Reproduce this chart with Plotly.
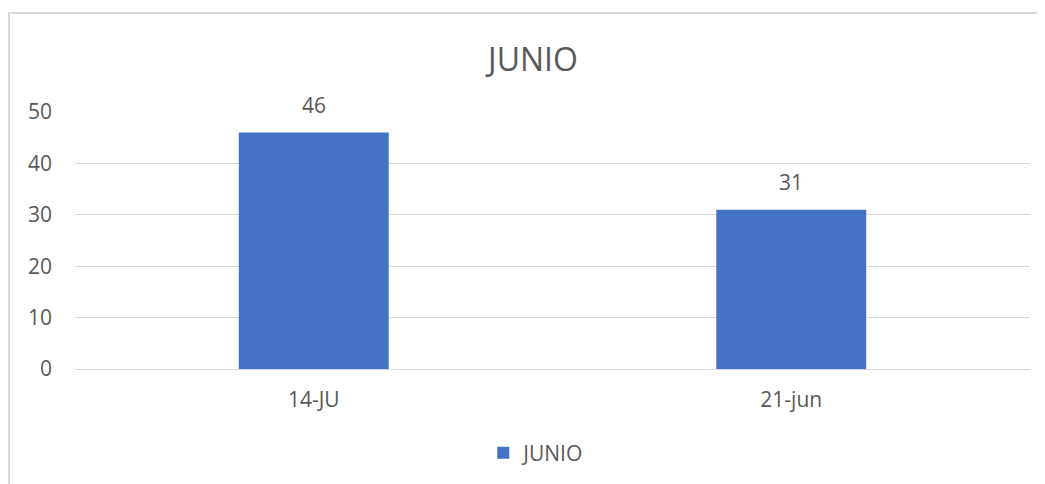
import plotly.graph_objects as go

categories = ["14-JU", "21-jun"]
values = [46, 31]
series_name = "JUNIO"

GRID = "#d9d9d9"
TEXT = "#595959"
BAR = "#4472C4"
FONT = "Open Sans, Liberation Sans, sans-serif"

fig = go.Figure()
fig.add_trace(
    go.Bar(
        x=categories,
        y=values,
        name=series_name,
        marker=dict(color=BAR, line=dict(width=0)),
        showlegend=True,
    )
)

# data labels above each bar
for cat, val in zip(categories, values):
    fig.add_annotation(
        x=cat, y=val, text=str(val), showarrow=False,
        yanchor="bottom", yshift=12,
        font=dict(size=21, color=TEXT, family=FONT),
    )

# chart border (left/top visible, rest falls outside the window)
fig.add_shape(
    type="rect", xref="paper", yref="paper",
    x0=-0.0691, x1=1.03, y0=-0.5, y1=1.385,
    line=dict(color=GRID, width=2), fillcolor="rgba(0,0,0,0)", layer="below",
)

fig.update_layout(
    width=1045,
    height=484,
    paper_bgcolor="white",
    plot_bgcolor="white",
    margin=dict(l=67, r=23, t=104, b=123),
    bargap=0.686,
    title=dict(
        text="JUNIO", x=0.4796, xref="paper", xanchor="center",
        y=0.8926, yanchor="middle",
        font=dict(size=32, color=TEXT, family=FONT),
    ),
    font=dict(family=FONT, color=TEXT, size=21),
    xaxis=dict(
        showgrid=False, showline=True, linecolor=GRID, linewidth=1,
        ticks="", tickfont=dict(size=21, color=TEXT), ticklabelstandoff=12,
    ),
    yaxis=dict(
        range=[0, 50], dtick=10, showgrid=True, gridcolor=GRID, gridwidth=1,
        zeroline=False, showline=False, ticks="",
        tickfont=dict(size=21, color=TEXT), ticklabelstandoff=22,
    ),
    legend=dict(
        orientation="h", x=0.483, xanchor="center", y=-0.327, yanchor="middle",
        font=dict(size=21, color=TEXT), itemwidth=30,
    ),
)

fig.write_html("out.html")
